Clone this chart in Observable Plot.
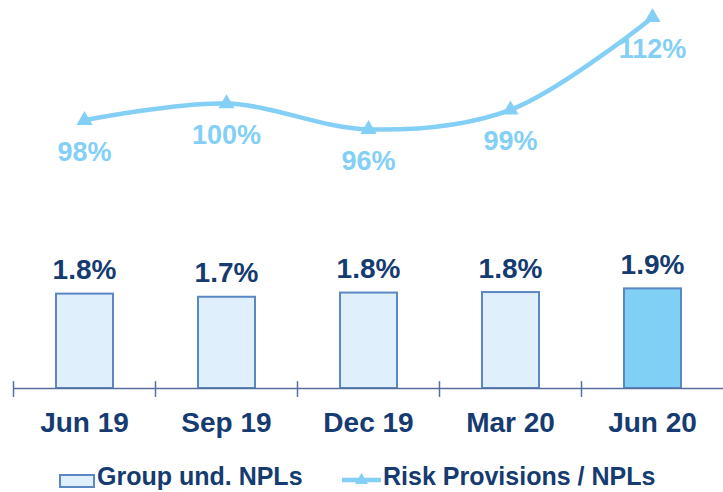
<!DOCTYPE html>
<html>
<head>
<meta charset="utf-8">
<script src="https://cdn.jsdelivr.net/npm/d3@7"></script>
<script src="https://cdn.jsdelivr.net/npm/@observablehq/plot@0.6"></script>
<style>
  html, body { margin: 0; padding: 0; background: #fff; }
  #wrap { position: relative; width: 723px; height: 492px; overflow: hidden; font-family: "Liberation Sans", Arial, sans-serif; }
  #wrap svg.plotlayer { position: absolute; left: 0; top: 0; }
  .leg { position: absolute; top: 463px; font-size: 25px; font-weight: bold; color: #153b70; line-height: 27px; height: 28px; white-space: nowrap; }
</style>
</head>
<body>
<div id="wrap"></div>
<script>
// ---- data ----
const periods = ["Jun 19", "Sep 19", "Dec 19", "Mar 20", "Jun 20"];
const nplRatio = [1.8, 1.74, 1.82, 1.83, 1.9];            // Group und. NPLs (%)
const coverage = [97.6, 100, 96.3, 99.1, 112.3];          // Risk Provisions / NPLs (%)
const legendLabels = ["Group und. NPLs", "Risk Provisions / NPLs"];

const navy = "#153b70";
const barStroke = "#5b87c5";
const barFill = "#dff0fc";
const barFillLatest = "#80cff5";
const lineColor = "#84cff5";
const axisColor = "#56709e";

const W = 723, H = 445, ML = 13, MR = 0;
const step = (W - ML - MR) / periods.length;

const rows = periods.map((p, i) => ({period: p, npl: nplRatio[i], cov: coverage[i]}));
const wrap = document.getElementById("wrap");
const font = "Liberation Sans, Arial, sans-serif";

// ---- bars + axis ----
const barPlot = Plot.plot({
  width: W, height: H,
  marginLeft: ML, marginRight: MR, marginTop: 0, marginBottom: H - 388,
  style: {fontFamily: font, background: "transparent", overflow: "visible"},
  x: {type: "band", domain: periods, padding: 0, label: null},
  y: {domain: [0, 7.4], axis: null},
  marks: [
    Plot.barY(rows, {
      x: "period", y: "npl",
      fill: d => d.period === periods[periods.length - 1] ? barFillLatest : barFill,
      stroke: barStroke, strokeWidth: 2,
      insetLeft: 43, insetRight: 42
    }),
    Plot.text(rows, {
      x: "period", y: "npl",
      text: d => d.npl.toFixed(1) + "%",
      dy: -24, lineAnchor: "middle",
      fill: navy, fontSize: 28, fontWeight: "bold"
    }),
    Plot.ruleY([0], {stroke: axisColor, strokeWidth: 1.5}),
    Plot.ruleX(periods, {x: d => d, dx: -step / 2, y1: -0.17, y2: 0.13, stroke: axisColor, strokeWidth: 1.5}),
    Plot.axisX({tickSize: 0, tickPadding: 24, fontSize: 28, fontWeight: "bold", fill: navy, label: null})
  ]
});
barPlot.classList.add("plotlayer");
wrap.appendChild(barPlot);

// ---- line overlay (own scale) ----
const linePlot = Plot.plot({
  width: W, height: H,
  marginLeft: ML, marginRight: MR, marginTop: 0, marginBottom: 0,
  style: {fontFamily: font, background: "transparent", overflow: "visible"},
  x: {type: "point", domain: periods, padding: 0.5, axis: null},
  y: {domain: [85, 115], range: [208, -2], axis: null},
  marks: [
    Plot.line(rows, {x: "period", y: "cov", curve: "catmull-rom", stroke: lineColor, strokeWidth: 4.5}),
    Plot.dot(rows, {x: "period", y: "cov", symbol: "triangle", r: 6, fill: lineColor, stroke: null}),
    Plot.text(rows, {
      x: "period", y: "cov",
      text: d => Math.round(d.cov) + "%",
      dy: 32, lineAnchor: "middle",
      fill: lineColor, fontSize: 27, fontWeight: "bold"
    })
  ]
});
linePlot.classList.add("plotlayer");
wrap.appendChild(linePlot);

// ---- legend ----
const leg1 = document.createElement("div");
leg1.className = "leg";
leg1.style.left = "59px";
leg1.innerHTML = `<svg width="36" height="27" style="vertical-align:top"><rect x="1" y="12" width="34" height="12" fill="${barFill}" stroke="${barStroke}" stroke-width="2"/></svg><span style="margin-left:2px">${legendLabels[0]}</span>`;
wrap.appendChild(leg1);

const leg2 = document.createElement("div");
leg2.className = "leg";
leg2.style.left = "342px";
leg2.innerHTML = `<svg width="39" height="27" style="vertical-align:top"><line x1="0" y1="17" x2="39" y2="17" stroke="${lineColor}" stroke-width="4.5"/><path d="M19.5,10 L26,21 L13,21 Z" fill="${lineColor}"/></svg><span style="margin-left:2px">${legendLabels[1]}</span>`;
wrap.appendChild(leg2);
</script>
</body>
</html>
